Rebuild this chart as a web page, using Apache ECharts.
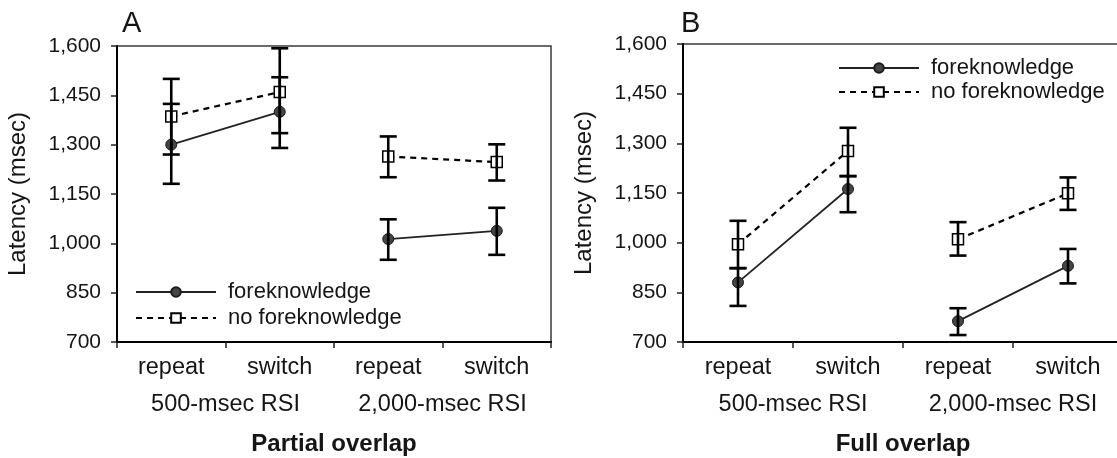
<!DOCTYPE html>
<html>
<head>
<meta charset="utf-8">
<script src="https://cdn.jsdelivr.net/npm/echarts@6/dist/echarts.min.js"></script>
<style>
html,body{margin:0;padding:0;background:#fff;}
#chart{width:1117px;height:458px;}
</style>
</head>
<body>
<div id="chart"></div>
<script>
// ---- data ----
const categories = ['repeat', 'switch', 'repeat', 'switch'];
const rsiGroups = ['500-msec RSI', '2,000-msec RSI'];
const groupOfCategory = [0, 0, 1, 1];
const yMin = 700, yMax = 1600, yStep = 150;
const panelLetters = ['A', 'B'];
const panelTitles = ['Partial overlap', 'Full overlap'];
const seriesNames = ['foreknowledge', 'no foreknowledge'];

// Panel A (partial overlap)
const foreA     = [1300, 1400, 1013, 1038];
const foreALow  = [1181, 1290, 950, 965];
const foreAHigh = [1424, 1505, 1073, 1108];
const noForeA     = [1386, 1460, 1264, 1247];
const noForeALow  = [1270, 1335, 1201, 1191];
const noForeAHigh = [1500, 1593, 1325, 1301];

// Panel B (full overlap)
const foreB     = [880, 1162, 763, 930];
const foreBLow  = [809, 1092, 721, 877];
const foreBHigh = [923, 1201, 802, 981];
const noForeB     = [995, 1277, 1010, 1149];
const noForeBLow  = [923, 1201, 961, 1099];
const noForeBHigh = [1066, 1347, 1062, 1197];

const panels = [
  {fore: foreA, foreLow: foreALow, foreHigh: foreAHigh, no: noForeA, noLow: noForeALow, noHigh: noForeAHigh},
  {fore: foreB, foreLow: foreBLow, foreHigh: foreBHigh, no: noForeB, noLow: noForeBLow, noHigh: noForeBHigh}
];

// ---- layout ----
const FONT = '"Liberation Sans", Arial, Helvetica, sans-serif';
const TXT = '#151515';
const grids = [
  {left: 117, top: 46, width: 434, height: 296},
  {left: 683, top: 44, width: 440, height: 298}
];
const legendPos = [
  {left: 135, top: 281, itemGap: 4},
  {left: 838, top: 57, itemGap: 2}
];

function fmt(v) { return v.toLocaleString('en-US'); }
function onlyGroup(values, g) {
  return values.map((v, i) => groupOfCategory[i] === g ? v : '-');
}
function errRender(params, api) {
  const i = api.value(0);
  const lo = api.coord([i, api.value(1)]);
  const hi = api.coord([i, api.value(2)]);
  const w = 8.5;
  const style = {stroke: '#000', lineWidth: 2.6, fill: null};
  return {
    type: 'group',
    children: [
      {type: 'line', shape: {x1: lo[0], y1: lo[1], x2: hi[0], y2: hi[1]}, style: style},
      {type: 'line', shape: {x1: lo[0] - w, y1: lo[1], x2: lo[0] + w, y2: lo[1]}, style: style},
      {type: 'line', shape: {x1: hi[0] - w, y1: hi[1], x2: hi[0] + w, y2: hi[1]}, style: style}
    ]
  };
}

const option = {
  animation: false,
  backgroundColor: '#fff',
  textStyle: {fontFamily: FONT, color: TXT},
  title: panelLetters.map((t, p) => ({
    text: t,
    left: p === 0 ? 117 : 676,
    top: 4,
    textStyle: {fontFamily: FONT, fontSize: 29, fontWeight: 'normal', color: TXT}
  })),
  legend: legendPos.map((lp, p) => ({
    data: seriesNames,
    orient: 'vertical',
    left: lp.left,
    top: lp.top,
    padding: 0,
    itemGap: lp.itemGap,
    itemWidth: 80,
    itemHeight: 12,
    textStyle: {fontFamily: FONT, fontSize: 22, color: TXT, padding: [0, 0, 0, 7]},
    selectedMode: false
  })),
  grid: grids.map(g => Object.assign({
    show: true, borderColor: '#3a3a3a', borderWidth: 1.5, backgroundColor: 'transparent',
    containLabel: false, outerBoundsMode: 'none'
  }, g)),
  xAxis: [],
  yAxis: [],
  series: []
};

grids.forEach((g, p) => {
  option.xAxis.push({
    type: 'category', gridIndex: p, data: categories, position: 'bottom',
    axisLine: {lineStyle: {color: '#000', width: 2}},
    axisTick: {show: true, length: 6, lineStyle: {color: '#222', width: 1.5}},
    axisLabel: {fontFamily: FONT, fontSize: 23.5, color: TXT, margin: 14, interval: 0, hideOverlap: false},
    splitLine: {show: false}
  });
  option.xAxis.push({
    type: 'category', gridIndex: p, data: rsiGroups, position: 'bottom',
    axisLine: {show: false}, axisTick: {show: false},
    axisLabel: {fontFamily: FONT, fontSize: 23.5, color: TXT, margin: 51, interval: 0, hideOverlap: false},
    splitLine: {show: false},
    name: panelTitles[p], nameLocation: 'middle', nameGap: 90,
    nameTextStyle: {fontFamily: FONT, fontSize: 24, fontWeight: 'bold', color: TXT}
  });
  option.yAxis.push({
    type: 'value', gridIndex: p, min: yMin, max: yMax, interval: yStep,
    axisLine: {show: true, lineStyle: {color: '#000', width: 2}},
    axisTick: {show: true, length: 6, lineStyle: {color: '#222', width: 1.5}},
    axisLabel: {fontFamily: FONT, fontSize: 21, color: TXT, margin: 16, formatter: fmt},
    splitLine: {show: false},
    name: 'Latency (msec)', nameLocation: 'middle', nameGap: 87,
    nameTextStyle: {fontFamily: FONT, fontSize: 24, color: TXT}
  });

  const d = panels[p];
  const xIdx = p * 2;
  [0, 1].forEach(grp => {
    option.series.push({
      name: seriesNames[0], type: 'line', xAxisIndex: xIdx, yAxisIndex: p,
      data: onlyGroup(d.fore, grp),
      symbol: 'circle', symbolSize: 11, showSymbol: true,
      lineStyle: {color: '#222', width: 1.8, type: 'solid'},
      itemStyle: {color: '#454545', borderColor: '#1a1a1a', borderWidth: 1},
      z: 3
    });
    option.series.push({
      name: seriesNames[1], type: 'line', xAxisIndex: xIdx, yAxisIndex: p,
      data: onlyGroup(d.no, grp),
      symbol: 'rect', symbolSize: 11, showSymbol: true,
      lineStyle: {color: '#000', width: 2.2, type: [6, 5]},
      itemStyle: {color: '#fff', borderColor: '#000', borderWidth: 1.5},
      z: 3
    });
  });
  option.series.push({
    type: 'custom', xAxisIndex: xIdx, yAxisIndex: p, renderItem: errRender, z: 4,
    data: categories.map((c, i) => [i, d.foreLow[i], d.foreHigh[i]]), silent: true
  });
  option.series.push({
    type: 'custom', xAxisIndex: xIdx, yAxisIndex: p, renderItem: errRender, z: 4,
    data: categories.map((c, i) => [i, d.noLow[i], d.noHigh[i]]), silent: true
  });
});

const chart = echarts.init(document.getElementById('chart'), null, {renderer: 'canvas'});
chart.setOption(option);
</script>
</body>
</html>
